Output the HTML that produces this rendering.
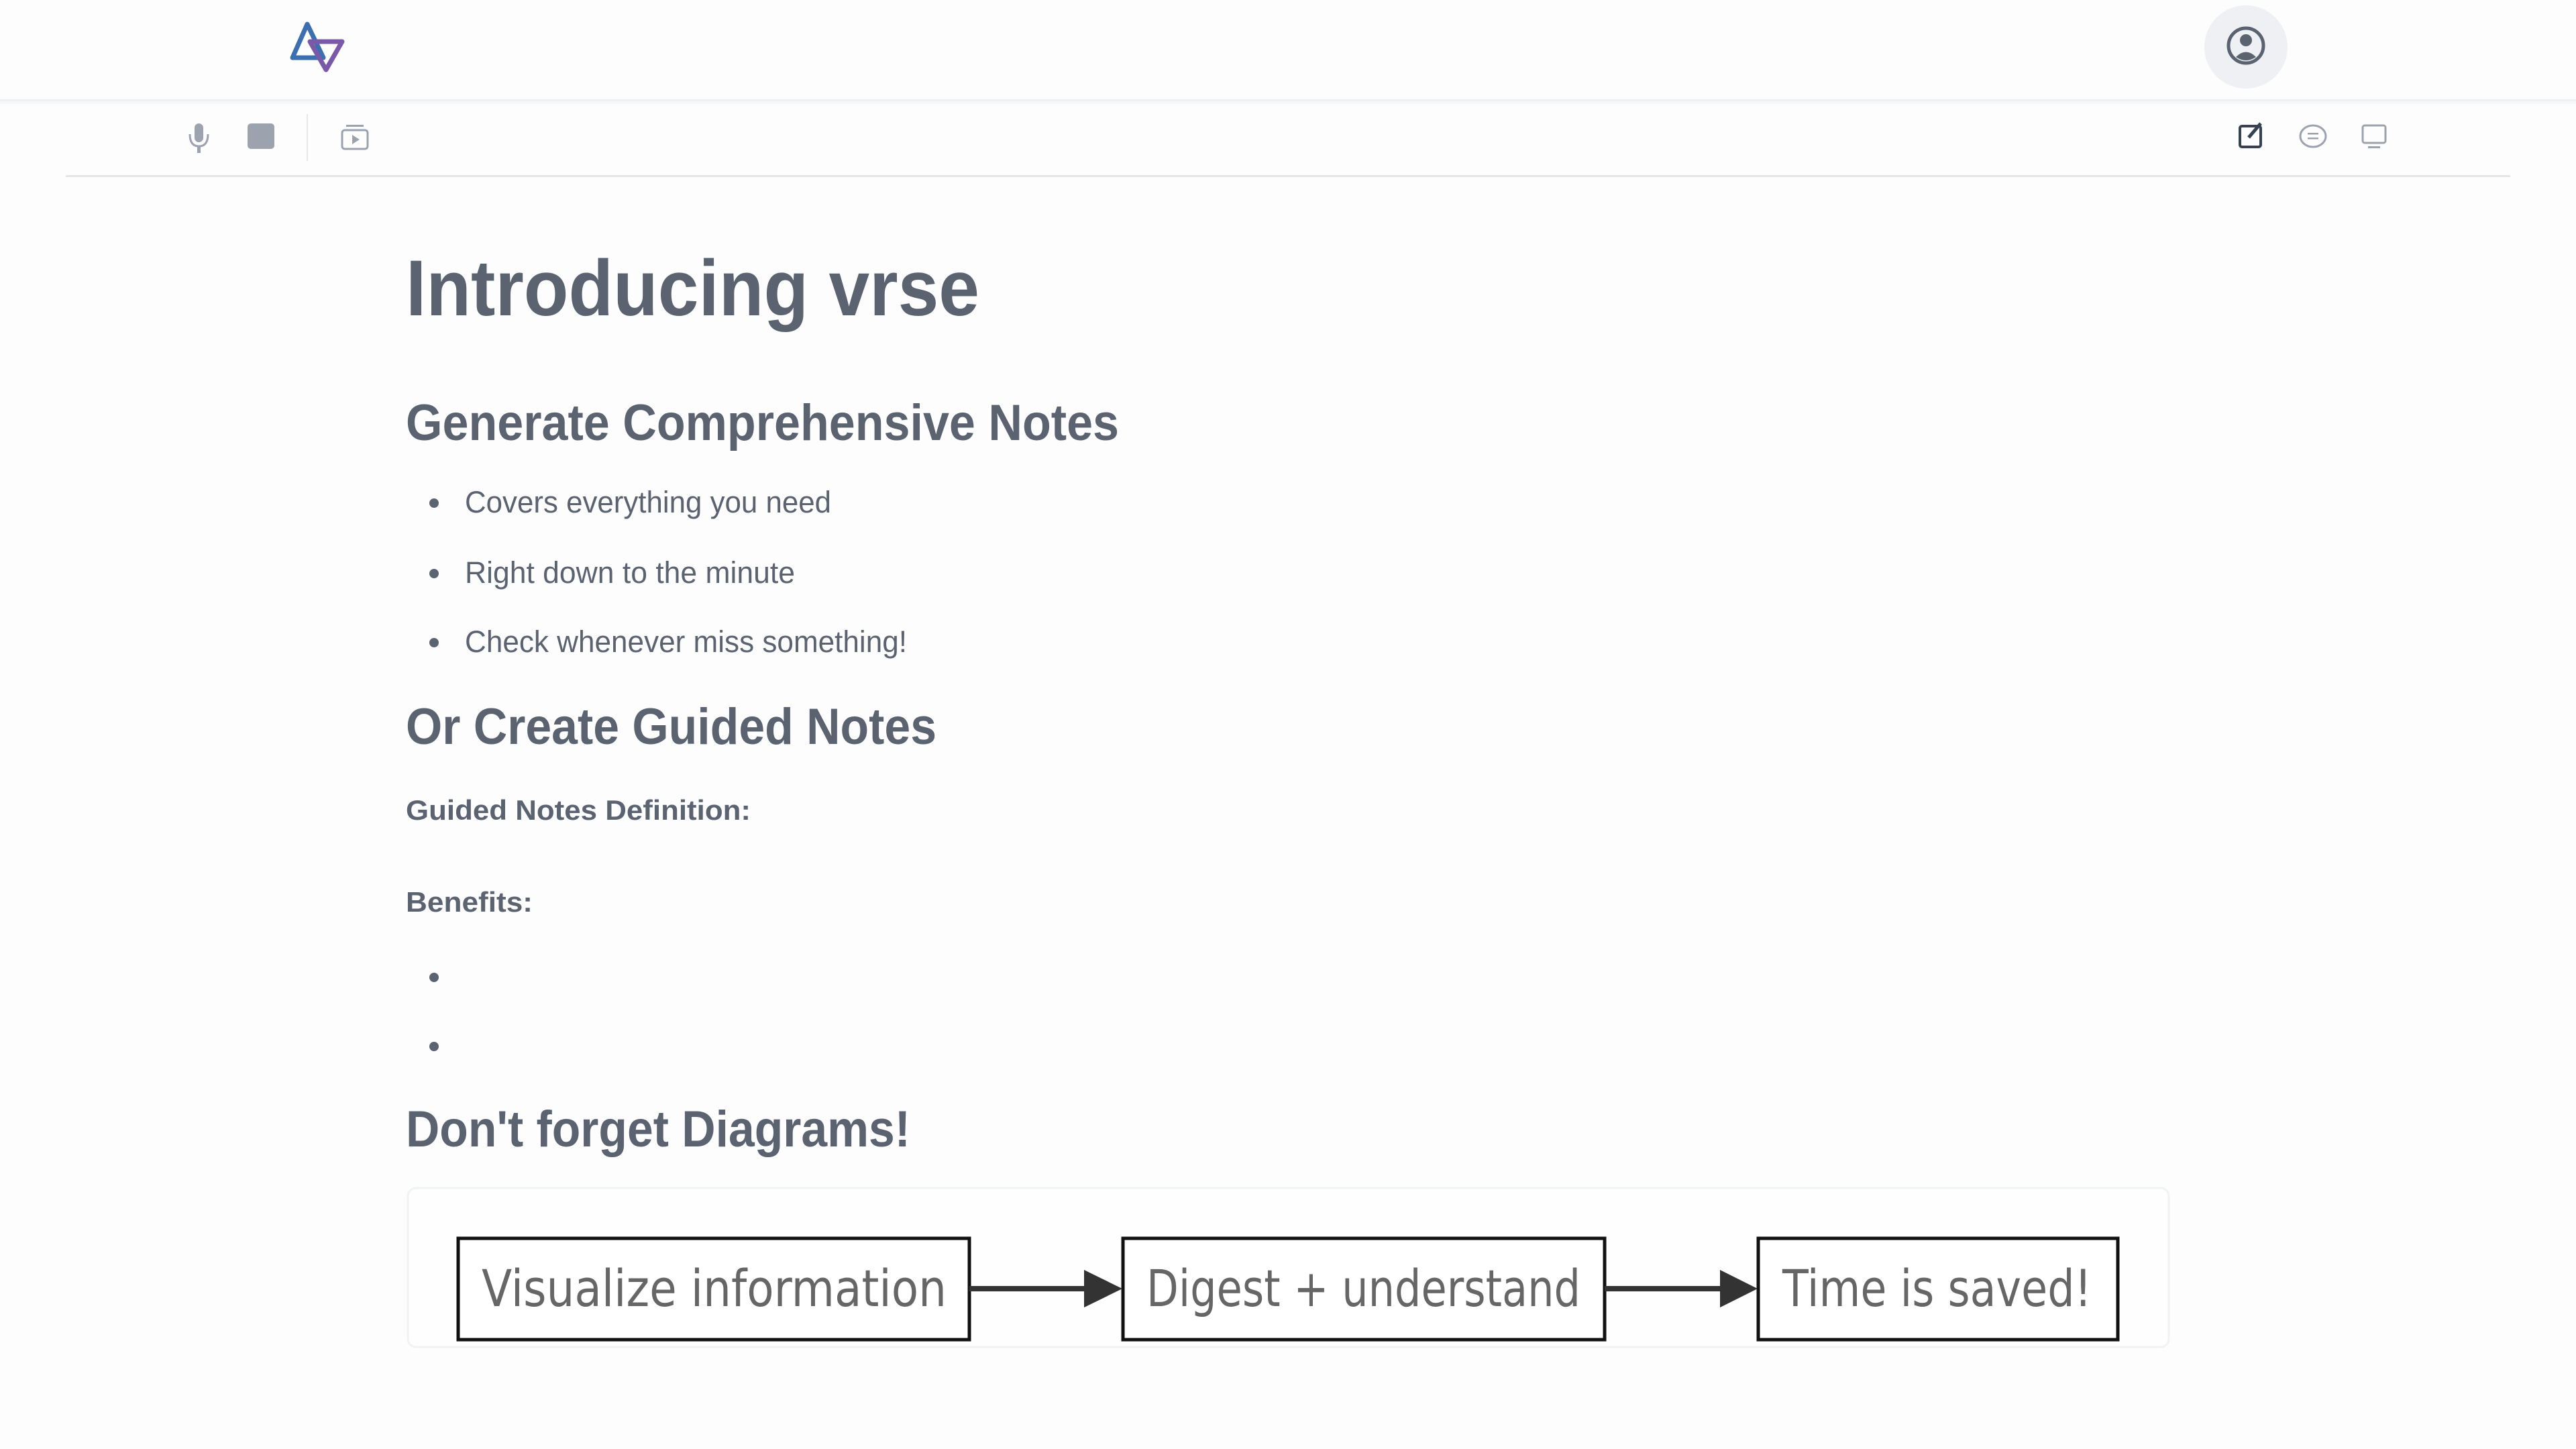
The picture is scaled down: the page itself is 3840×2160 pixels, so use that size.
<!DOCTYPE html>
<html><head><meta charset="utf-8"><style>
html,body{margin:0;padding:0;background:#fdfdfe;width:3840px;height:2160px;overflow:hidden}
svg{display:block}
</style></head><body>
<svg width="3840" height="2160" viewBox="0 0 3840 2160" xmlns="http://www.w3.org/2000/svg" font-family="Liberation Sans, sans-serif">
<rect width="3840" height="2160" fill="#fdfdfe"/>
<!-- header -->
<rect x="0" y="148" width="3840" height="3" fill="#eef0f2"/>
<rect x="0" y="151" width="3840" height="4" fill="#f6f7f8"/>
<!-- logo -->
<path d="M458 36 L436 86 L482 86 Z" fill="none" stroke="#3b6fb0" stroke-width="7" stroke-linejoin="round"/>
<path d="M462 62 L510 62 L486 104 Z" fill="none" stroke="#7a5aa8" stroke-width="7" stroke-linejoin="round"/>
<!-- avatar -->
<circle cx="3348" cy="70" r="62" fill="#eef0f3"/>
<circle cx="3348" cy="68" r="26" fill="none" stroke="#5b6270" stroke-width="5"/>
<circle cx="3348" cy="60" r="9" fill="#5b6270"/>
<path d="M3333 85 Q3348 70 3363 85 Q3348 95 3333 85Z" fill="#5b6270"/>
<!-- toolbar -->
<rect x="290" y="184" width="13" height="28" rx="6.5" fill="#9ca3af"/>
<path d="M283 200 Q283 218 296.5 218 Q310 218 310 200" fill="none" stroke="#9ca3af" stroke-width="3"/>
<rect x="294" y="218" width="5" height="10" fill="#9ca3af"/>
<rect x="369" y="184" width="40" height="38" rx="5" fill="#9ca3af"/>
<rect x="457" y="170" width="2" height="70" fill="#e5e7eb"/>
<rect x="510" y="194" width="38" height="28" rx="4" fill="none" stroke="#9ca3af" stroke-width="3"/>
<rect x="516" y="186" width="26" height="3" fill="#9ca3af"/>
<path d="M525 201 L536 208 L525 215Z" fill="#9ca3af"/>
<rect x="3339" y="188" width="31" height="31" rx="3" fill="none" stroke="#374151" stroke-width="4"/>
<path d="M3352 205 L3370 184" stroke="#374151" stroke-width="5"/>
<ellipse cx="3448" cy="203" rx="19" ry="16" fill="none" stroke="#9ca3af" stroke-width="3"/>
<rect x="3440" y="198" width="16" height="2.5" fill="#9ca3af"/><rect x="3440" y="205" width="16" height="2.5" fill="#9ca3af"/>
<rect x="3522" y="187" width="34" height="26" rx="3" fill="none" stroke="#9ca3af" stroke-width="3"/>
<rect x="3530" y="218" width="18" height="3" fill="#9ca3af"/>
<rect x="98" y="261" width="3644" height="3" fill="#e3e5e8"/>
<!-- text -->
<g fill="#5b6270">
<text x="605" y="470" font-size="118" font-weight="bold" textLength="855" lengthAdjust="spacingAndGlyphs">Introducing vrse</text>
<text x="605" y="656" font-size="76" font-weight="bold" textLength="1063" lengthAdjust="spacingAndGlyphs">Generate Comprehensive Notes</text>
<circle cx="647" cy="750" r="7"/><circle cx="647" cy="855" r="7"/><circle cx="647" cy="958" r="7"/>
<text x="693" y="764" font-size="45" textLength="546" lengthAdjust="spacingAndGlyphs">Covers everything you need</text>
<text x="693" y="869" font-size="45" textLength="492" lengthAdjust="spacingAndGlyphs">Right down to the minute</text>
<text x="693" y="972" font-size="45" textLength="659" lengthAdjust="spacingAndGlyphs">Check whenever miss something!</text>
<text x="605" y="1109" font-size="76" font-weight="bold" textLength="791" lengthAdjust="spacingAndGlyphs">Or Create Guided Notes</text>
<text x="605" y="1222" font-size="42" font-weight="bold" textLength="514" lengthAdjust="spacingAndGlyphs">Guided Notes Definition:</text>
<text x="605" y="1359" font-size="42" font-weight="bold" textLength="189" lengthAdjust="spacingAndGlyphs">Benefits:</text>
<circle cx="647" cy="1457" r="7"/><circle cx="647" cy="1560" r="7"/>
<text x="605" y="1709" font-size="76" font-weight="bold" textLength="752" lengthAdjust="spacingAndGlyphs">Don't forget Diagrams!</text>
</g>
<!-- diagram -->
<rect x="608" y="1771" width="2625" height="237" rx="12" fill="#fefefe" stroke="#f0f2f3" stroke-width="3"/>
<g fill="#fff" stroke="#111" stroke-width="5">
<rect x="683" y="1846" width="762" height="151"/>
<rect x="1674" y="1846" width="718" height="151"/>
<rect x="2621" y="1846" width="536" height="151"/>
</g>
<g stroke="#333" stroke-width="8"><line x1="1445" y1="1921" x2="1625" y2="1921"/><line x1="2392" y1="1921" x2="2572" y2="1921"/></g>
<g fill="#333"><path d="M1616 1893 L1673 1921 L1616 1949Z"/><path d="M2564 1893 L2620 1921 L2564 1949Z"/></g>
<g fill="#666" font-family="DejaVu Sans, sans-serif" font-size="76">
<text x="718" y="1947" textLength="693" lengthAdjust="spacingAndGlyphs">Visualize information</text>
<text x="1709" y="1947" textLength="647" lengthAdjust="spacingAndGlyphs">Digest + understand</text>
<text x="2657" y="1947" textLength="461" lengthAdjust="spacingAndGlyphs">Time is saved!</text>
</g>
</svg>
</body></html>
